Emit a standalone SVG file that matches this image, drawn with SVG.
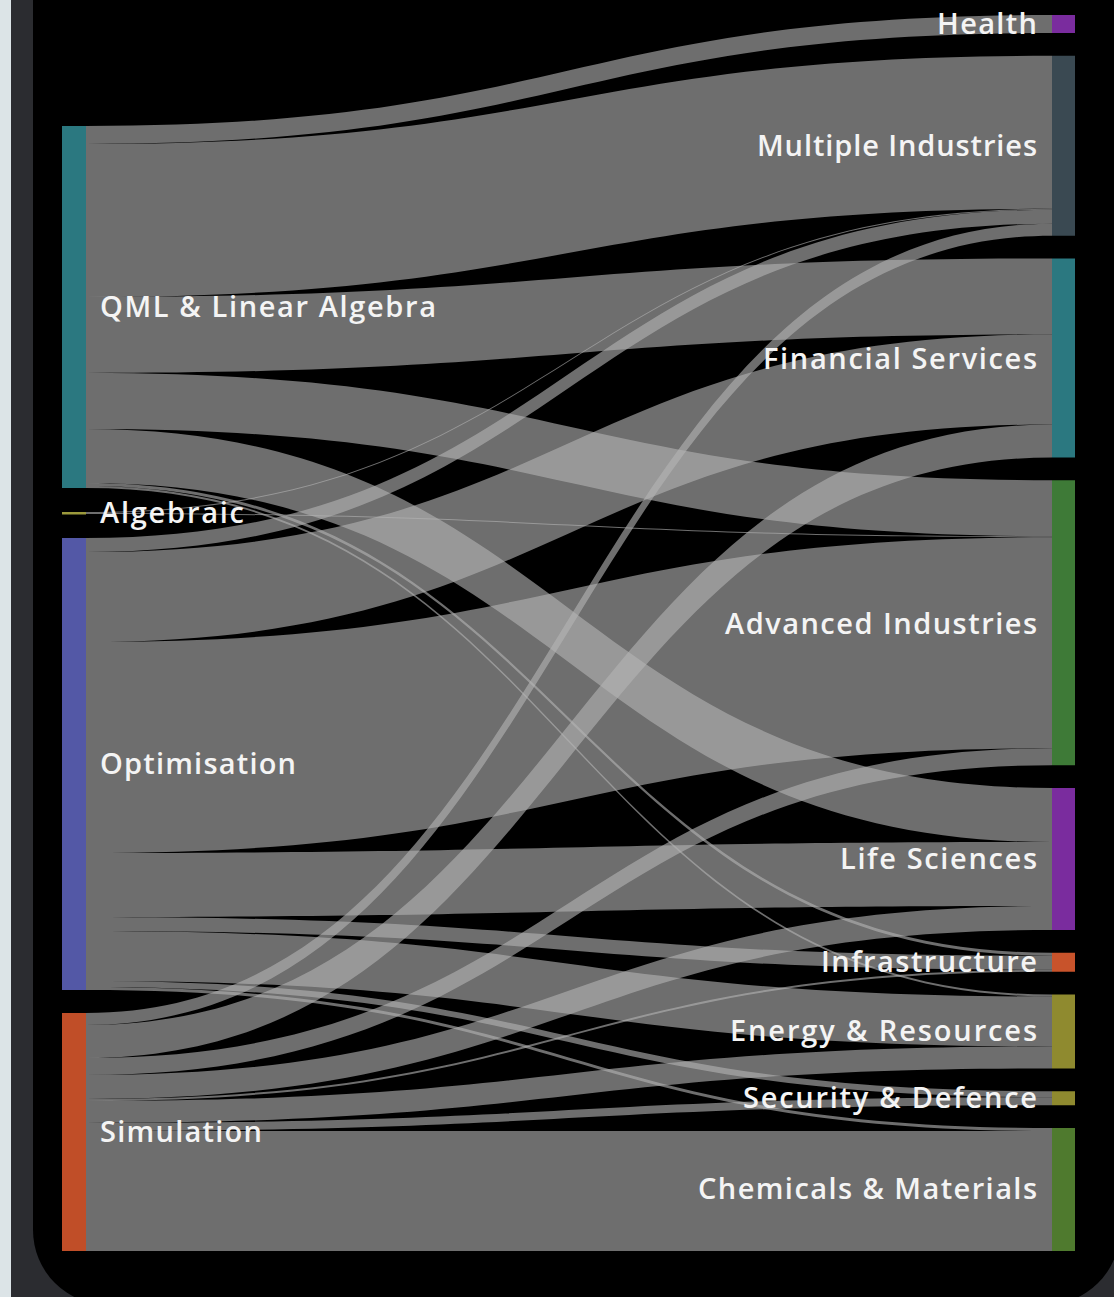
<svg xmlns="http://www.w3.org/2000/svg" width="1114" height="1297" viewBox="0 0 1114 1297">
<style>
.lk{fill:#b4b4b4;fill-opacity:0.61}
.lb{font-family:"Open Sans",Lato,sans-serif;font-size:29px;font-weight:600;fill:#f4f4f4}
.r{text-anchor:end}
</style>
<rect x="0" y="0" width="1114" height="1297" fill="#dce4e7"/>
<rect x="11" y="-50" width="1200" height="1400" fill="#2b2c30"/>
<rect x="33" y="-100" width="1087" height="1405" rx="75" ry="75" fill="#000"/>
<g id="links">
<path class="lk" d="M86,126C569,126 569,15 1052,15L1052,33C569,33 569,144 86,144Z"/>
<path class="lk" d="M86,144C569,144 569,55.75 1052,55.75L1052,208.75C569,208.75 569,297 86,297Z"/>
<path class="lk" d="M86,297C569,297 569,258.5 1052,258.5L1052,334.5C569,334.5 569,373 86,373Z"/>
<path class="lk" d="M86,373C569,373 569,480.25 1052,480.25L1052,536.25C569,536.25 569,429 86,429Z"/>
<path class="lk" d="M86,429C569,429 569,788 1052,788L1052,842C569,842 569,483 86,483Z"/>
<path class="lk" d="M86,483C569,483 569,952.75 1052,952.75L1052,955.75C569,955.75 569,486 86,486Z"/>
<path class="lk" d="M86,486C569,486 569,994.5 1052,994.5L1052,996.5C569,996.5 569,488 86,488Z"/>
<path class="lk" d="M86,512C569,512 569,208.75 1052,208.75L1052,209.75C569,209.75 569,513 86,513Z"/>
<path class="lk" d="M86,513C569,513 569,536.25 1052,536.25L1052,537.25C569,537.25 569,514 86,514Z"/>
<path class="lk" d="M86,538C569,538 569,209.75 1052,209.75L1052,223.75C569,223.75 569,552 86,552Z"/>
<path class="lk" d="M86,552C569,552 569,334.5 1052,334.5L1052,424.5C569,424.5 569,642 86,642Z"/>
<path class="lk" d="M86,642C569,642 569,537.25 1052,537.25L1052,748.25C569,748.25 569,853 86,853Z"/>
<path class="lk" d="M86,853C569,853 569,842 1052,842L1052,906C569,906 569,917 86,917Z"/>
<path class="lk" d="M86,917C569,917 569,955.75 1052,955.75L1052,969.75C569,969.75 569,931 86,931Z"/>
<path class="lk" d="M86,931C569,931 569,996.5 1052,996.5L1052,1046.5C569,1046.5 569,981 86,981Z"/>
<path class="lk" d="M86,981C569,981 569,1091.25 1052,1091.25L1052,1097.25C569,1097.25 569,987 86,987Z"/>
<path class="lk" d="M86,987C569,987 569,1128 1052,1128L1052,1131C569,1131 569,990 86,990Z"/>
<path class="lk" d="M86,1013C569,1013 569,223.75 1052,223.75L1052,235.75C569,235.75 569,1025 86,1025Z"/>
<path class="lk" d="M86,1025C569,1025 569,424.5 1052,424.5L1052,457.5C569,457.5 569,1058 86,1058Z"/>
<path class="lk" d="M86,1058C569,1058 569,748.25 1052,748.25L1052,765.25C569,765.25 569,1075 86,1075Z"/>
<path class="lk" d="M86,1075C569,1075 569,906 1052,906L1052,930C569,930 569,1099 86,1099Z"/>
<path class="lk" d="M86,1099C569,1099 569,969.75 1052,969.75L1052,971.75C569,971.75 569,1101 86,1101Z"/>
<path class="lk" d="M86,1101C569,1101 569,1046.5 1052,1046.5L1052,1068.5C569,1068.5 569,1123 86,1123Z"/>
<path class="lk" d="M86,1123C569,1123 569,1097.25 1052,1097.25L1052,1105.25C569,1105.25 569,1131 86,1131Z"/>
<path class="lk" d="M86,1131C569,1131 569,1131 1052,1131L1052,1251C569,1251 569,1251 86,1251Z"/>
</g>
<g id="n-qml"><rect x="62" y="126" width="24" height="362" fill="#2b7880"/><text class="lb" x="100" y="317" textLength="336" lengthAdjust="spacing">QML &amp; Linear Algebra</text></g>
<g id="n-alg"><rect x="62" y="512" width="24" height="2.5" fill="#9c9a3c"/><text class="lb" x="100" y="523" textLength="144" lengthAdjust="spacing">Algebraic</text></g>
<g id="n-opt"><rect x="62" y="538" width="24" height="452" fill="#5358a6"/><text class="lb" x="100" y="774" textLength="196" lengthAdjust="spacing">Optimisation</text></g>
<g id="n-sim"><rect x="62" y="1013" width="24" height="238" fill="#c04e28"/><text class="lb" x="100" y="1142" textLength="162" lengthAdjust="spacing">Simulation</text></g>
<g id="n-health"><rect x="1052" y="15" width="23" height="18" fill="#7a2c9e"/><text class="lb r" x="1037" y="34" textLength="100" lengthAdjust="spacing">Health</text></g>
<g id="n-mi"><rect x="1052" y="55.75" width="23" height="180" fill="#3a4952"/><text class="lb r" x="1037" y="156" textLength="280" lengthAdjust="spacing">Multiple Industries</text></g>
<g id="n-fs"><rect x="1052" y="258.5" width="23" height="199" fill="#2b7880"/><text class="lb r" x="1037" y="369" textLength="274" lengthAdjust="spacing">Financial Services</text></g>
<g id="n-ai"><rect x="1052" y="480.25" width="23" height="285" fill="#3e7a37"/><text class="lb r" x="1037" y="634" textLength="312" lengthAdjust="spacing">Advanced Industries</text></g>
<g id="n-ls"><rect x="1052" y="788" width="23" height="142" fill="#7a2c9e"/><text class="lb r" x="1037" y="869" textLength="197" lengthAdjust="spacing">Life Sciences</text></g>
<g id="n-infra"><rect x="1052" y="952.75" width="23" height="19" fill="#c8532b"/><text class="lb r" x="1037" y="972" textLength="216" lengthAdjust="spacing">Infrastructure</text></g>
<g id="n-energy"><rect x="1052" y="994.5" width="23" height="74" fill="#8f8a2f"/><text class="lb r" x="1037" y="1041" textLength="307" lengthAdjust="spacing">Energy &amp; Resources</text></g>
<g id="n-sec"><rect x="1052" y="1091.25" width="23" height="14" fill="#8f8a2f"/><text class="lb r" x="1037" y="1108" textLength="294" lengthAdjust="spacing">Security &amp; Defence</text></g>
<g id="n-chem"><rect x="1052" y="1128" width="23" height="123" fill="#4f7a2e"/><text class="lb r" x="1037" y="1199" textLength="339" lengthAdjust="spacing">Chemicals &amp; Materials</text></g>
</svg>
